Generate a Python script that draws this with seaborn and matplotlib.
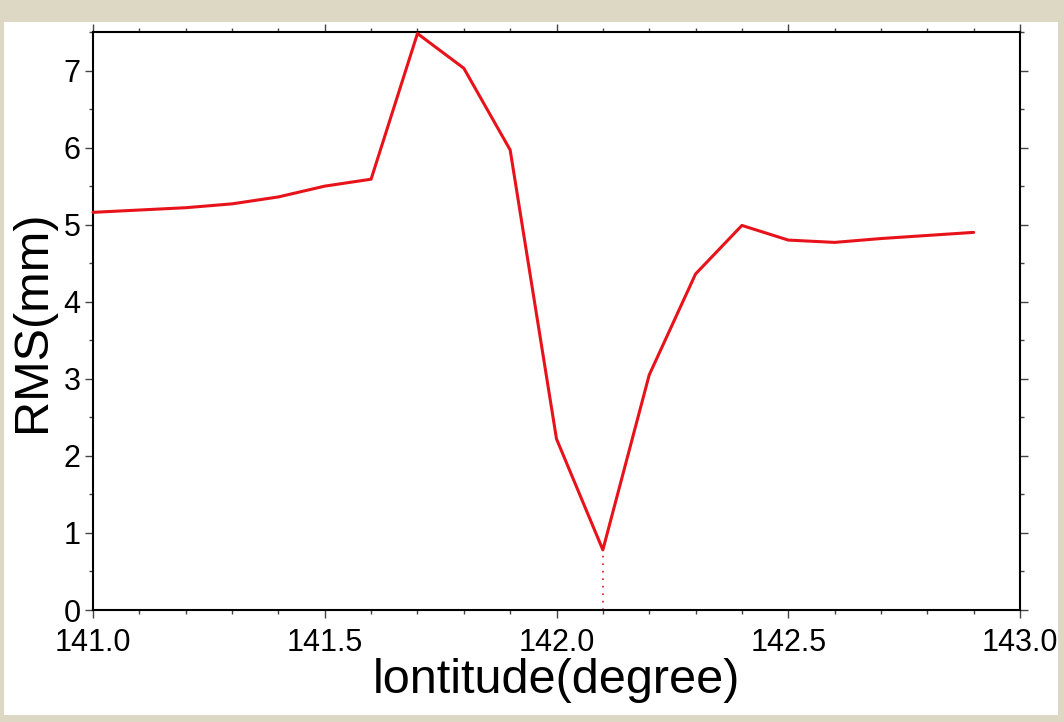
import numpy as np
import pandas as pd
import matplotlib
matplotlib.use("Agg")
import matplotlib.pyplot as plt
import seaborn as sns
from matplotlib.ticker import MultipleLocator, FormatStrFormatter
from matplotlib.patches import Rectangle

longitude = [141.0, 141.1, 141.2, 141.3, 141.4, 141.5, 141.6, 141.7, 141.8, 141.9,
             142.0, 142.1, 142.2, 142.3, 142.4, 142.5, 142.6, 142.7, 142.8, 142.9]
rms = [5.16, 5.19, 5.22, 5.27, 5.36, 5.50, 5.59, 7.48, 7.03, 5.97,
       2.22, 0.78, 3.05, 4.36, 4.99, 4.80, 4.77, 4.82, 4.86, 4.90]
x_label = "lontitude(degree)"
y_label = "RMS(mm)"

sns.set_theme(style="ticks")
plt.rcParams['font.family'] = ['Liberation Sans', 'DejaVu Sans']

df = pd.DataFrame({"lon": longitude, "rms": rms})

fig = plt.figure(figsize=(10.64, 7.22), dpi=100)
fig.patch.set_facecolor("#DDD8C4")
bg = Rectangle((4/1064, 1-715/722), (1058-4)/1064, (715-22)/722,
               transform=fig.transFigure, facecolor="white",
               edgecolor="none", zorder=-10)
fig.patches.append(bg)
ax = fig.add_axes([93/1064, 1-610/722, (1020-93)/1064, (610-32)/722])
ax.set_zorder(1)
ax.set_facecolor("white")

red = "#E8121A"
sns.lineplot(data=df, x="lon", y="rms", ax=ax, color=red, linewidth=2.2,
             clip_on=False, zorder=3)
imin = int(np.argmin(rms))
ax.vlines(longitude[imin], 0, rms[imin], colors=red, linestyles=(0, (1, 3.5)),
          linewidth=1.2, zorder=2)

ax.set_xlim(141.0, 143.0)
ax.set_ylim(0, 7.5)
ax.xaxis.set_major_locator(MultipleLocator(0.5))
ax.xaxis.set_minor_locator(MultipleLocator(0.1))
ax.yaxis.set_major_locator(MultipleLocator(1))
ax.yaxis.set_minor_locator(MultipleLocator(0.5))
ax.xaxis.set_major_formatter(FormatStrFormatter("%.1f"))

for s in ax.spines.values():
    s.set_linewidth(1.5)
    s.set_color("black")

ax.tick_params(axis="both", which="both", direction="out", colors="#444444",
               labelcolor="black", top=True, right=True)
ax.tick_params(axis="x", which="major", length=6, width=1.0, labelsize=22, pad=7)
ax.tick_params(axis="x", which="minor", length=3, width=1.0)
ax.tick_params(axis="y", which="major", length=6, width=1.0, labelsize=22, pad=3)
ax.tick_params(axis="y", which="minor", length=3, width=1.0)

ax.set_xlabel(x_label, fontsize=35, labelpad=0, color="black")
ax.set_ylabel(y_label, fontsize=35, labelpad=6, color="black")

fig.savefig("out.png", dpi=100, facecolor=fig.get_facecolor())
